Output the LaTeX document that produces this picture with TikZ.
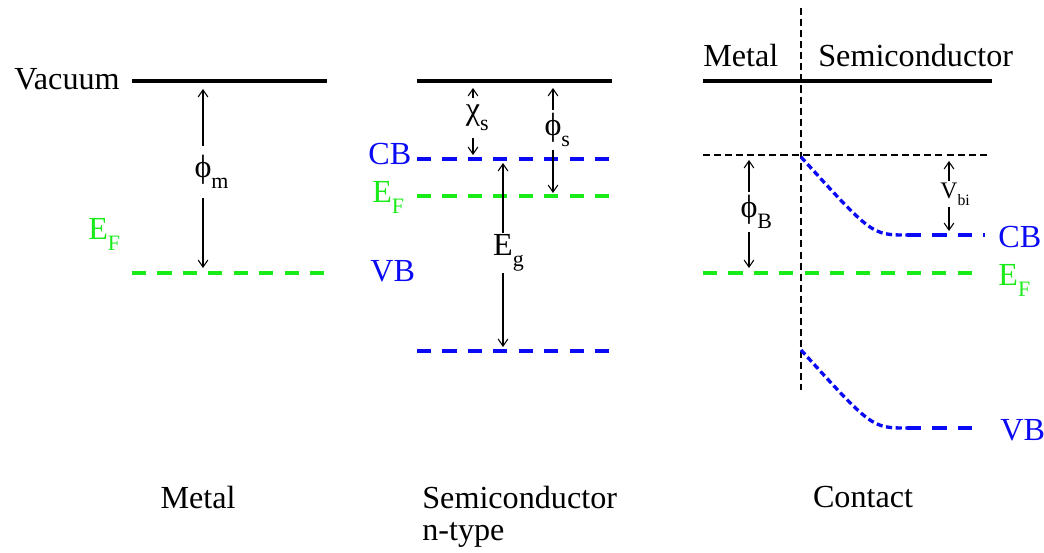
\documentclass[tikz,border=0pt]{standalone}
\usepackage{fontspec}
\setmainfont{Liberation Serif}
\usetikzlibrary{arrows.meta, positioning}
\usepackage{xcolor}
\definecolor{bandblue}{RGB}{10,10,245}
\definecolor{fermigreen}{RGB}{25,235,25}
\newcommand{\lowsub}[1]{\raisebox{-6pt}{\fontsize{12.5}{14}\selectfont #1}}
\tikzset{
  level/.style={line width=1.9pt},
  dashlevel/.style={line width=1.9pt, dash pattern=on 8pt off 6.5pt},
  bentlevel/.style={line width=1.9pt, dash pattern=on 3.5pt off 2pt},
  guide/.style={line width=0.6pt, dash pattern=on 4pt off 2.3pt},
  gap/.style={->, line width=0.6pt},
  gaplbl/.style={inner sep=0pt},
  txt/.style={inner sep=0pt, anchor=base west},
}

\begin{document}
\begin{tikzpicture}[x=0.02cm, y=-0.02cm, font=\fontsize{18.3}{22}\selectfont,
    >={Straight Barb[length=4pt, width=5.5pt]}]
        \useasboundingbox (0,0) rectangle (1044,553);

        % metal
        \node[txt, anchor=base east] (vac) at (120,90) {Vacuum};
        \draw[level] (132,81) -- (327,81);
        \draw[dashlevel, fermigreen] (132,273) -- (327,273);
        \node[txt, fermigreen] (efm) at (88,240) {E\lowsub{F}};
        \node[txt, bandblue] (vbm) at (370,282) {VB};
        \coordinate (mtop) at (203,89);
        \coordinate (mbot) at (203,268);
        \node[gaplbl, minimum height=1.02cm] (phim) at (203,172) {ϕ\rlap{\lowsub{m}}};
        \draw[gap] (phim) -- (mtop);
        \draw[gap] (phim) -- (mbot);

        % semiconductor
        \draw[level] (417,81) -- (612,81);
        \draw[dashlevel, bandblue] (417,159) -- (612,159);
        \draw[dashlevel, fermigreen] (417,196) -- (612,196);
        \draw[dashlevel, bandblue] (417,351) -- (612,351);
        \node[txt, bandblue] (cbs) at (368,165) {CB};
        \node[txt, fermigreen] (efs) at (372,203) {E\lowsub{F}};
        \coordinate (chitop) at (473,88);
        \coordinate (chibot) at (473,155);
        \node[gaplbl, minimum height=0.8cm] (chis) at (473,118) {χ\rlap{\lowsub{s}}};
        \draw[gap] (chis) -- (chitop);
        \draw[gap] (chis) -- (chibot);
        \coordinate (phistop) at (553,88);
        \coordinate (phisbot) at (553,193);
        \node[gaplbl, minimum height=0.8cm] (phis) at (553,130) {ϕ\rlap{\lowsub{s}}};
        \draw[gap] (phis) -- (phistop);
        \draw[gap] (phis) -- (phisbot);
        \coordinate (egtop) at (503,163);
        \coordinate (egbot) at (503,347);
        \node[gaplbl, minimum height=0.8cm] (eg) at (503,253) {E\rlap{\lowsub{g}}};
        \draw[gap] (eg) -- (egtop);
        \draw[gap] (eg) -- (egbot);

        % contact
        \draw[guide] (801,8) -- (801,390);
        \node[txt] (metc) at (703,67) {Metal};
        \node[txt] (semc) at (818,67) {Semiconductor};
        \draw[level] (703,81) -- (992,81);
        \draw[guide] (703,155) -- (987,155);
        \draw[bentlevel, bandblue] (801,157) .. controls (872,235) .. (907,235);
        \draw[dashlevel, bandblue] (907,235) -- (985,235);
        \draw[dashlevel, fermigreen] (703,273) -- (980,273);
        \draw[bentlevel, bandblue] (801,350) .. controls (872,428) .. (907,428);
        \draw[dashlevel, bandblue] (907,428) -- (983,428);
        \node[txt, bandblue] (cbc) at (998,248) {CB};
        \node[txt, fermigreen] (efc) at (998,286) {E\lowsub{F}};
        \node[txt, bandblue] (vbc) at (1000,440) {VB};
        \coordinate (phibtop) at (749,160);
        \coordinate (phibbot) at (749,268);
        \node[gaplbl, minimum height=0.8cm] (phib) at (749,212) {ϕ\rlap{\lowsub{B}}};
        \draw[gap] (phib) -- (phibtop);
        \draw[gap] (phib) -- (phibbot);
        \coordinate (vbitop) at (949,161);
        \coordinate (vbibot) at (949,231);
        \node[gaplbl, minimum height=0.5cm, font=\fontsize{13.5}{15}\selectfont] (vbi) at (949,194)
            {V\rlap{\raisebox{-4pt}{\fontsize{9}{10}\selectfont bi}}};
        \draw[gap] (vbi) -- (vbitop);
        \draw[gap] (vbi) -- (vbibot);

        % captions
        \node[txt, anchor=base] (metb) at (198,508) {Metal};
        \node[txt] (semb) at (422,508) {Semiconductor};
        \node[txt] (ntype) at (422,540) {n-type};
        \node[txt, anchor=base] (cont) at (863,507) {Contact};
    \end{tikzpicture}
\end{document}
